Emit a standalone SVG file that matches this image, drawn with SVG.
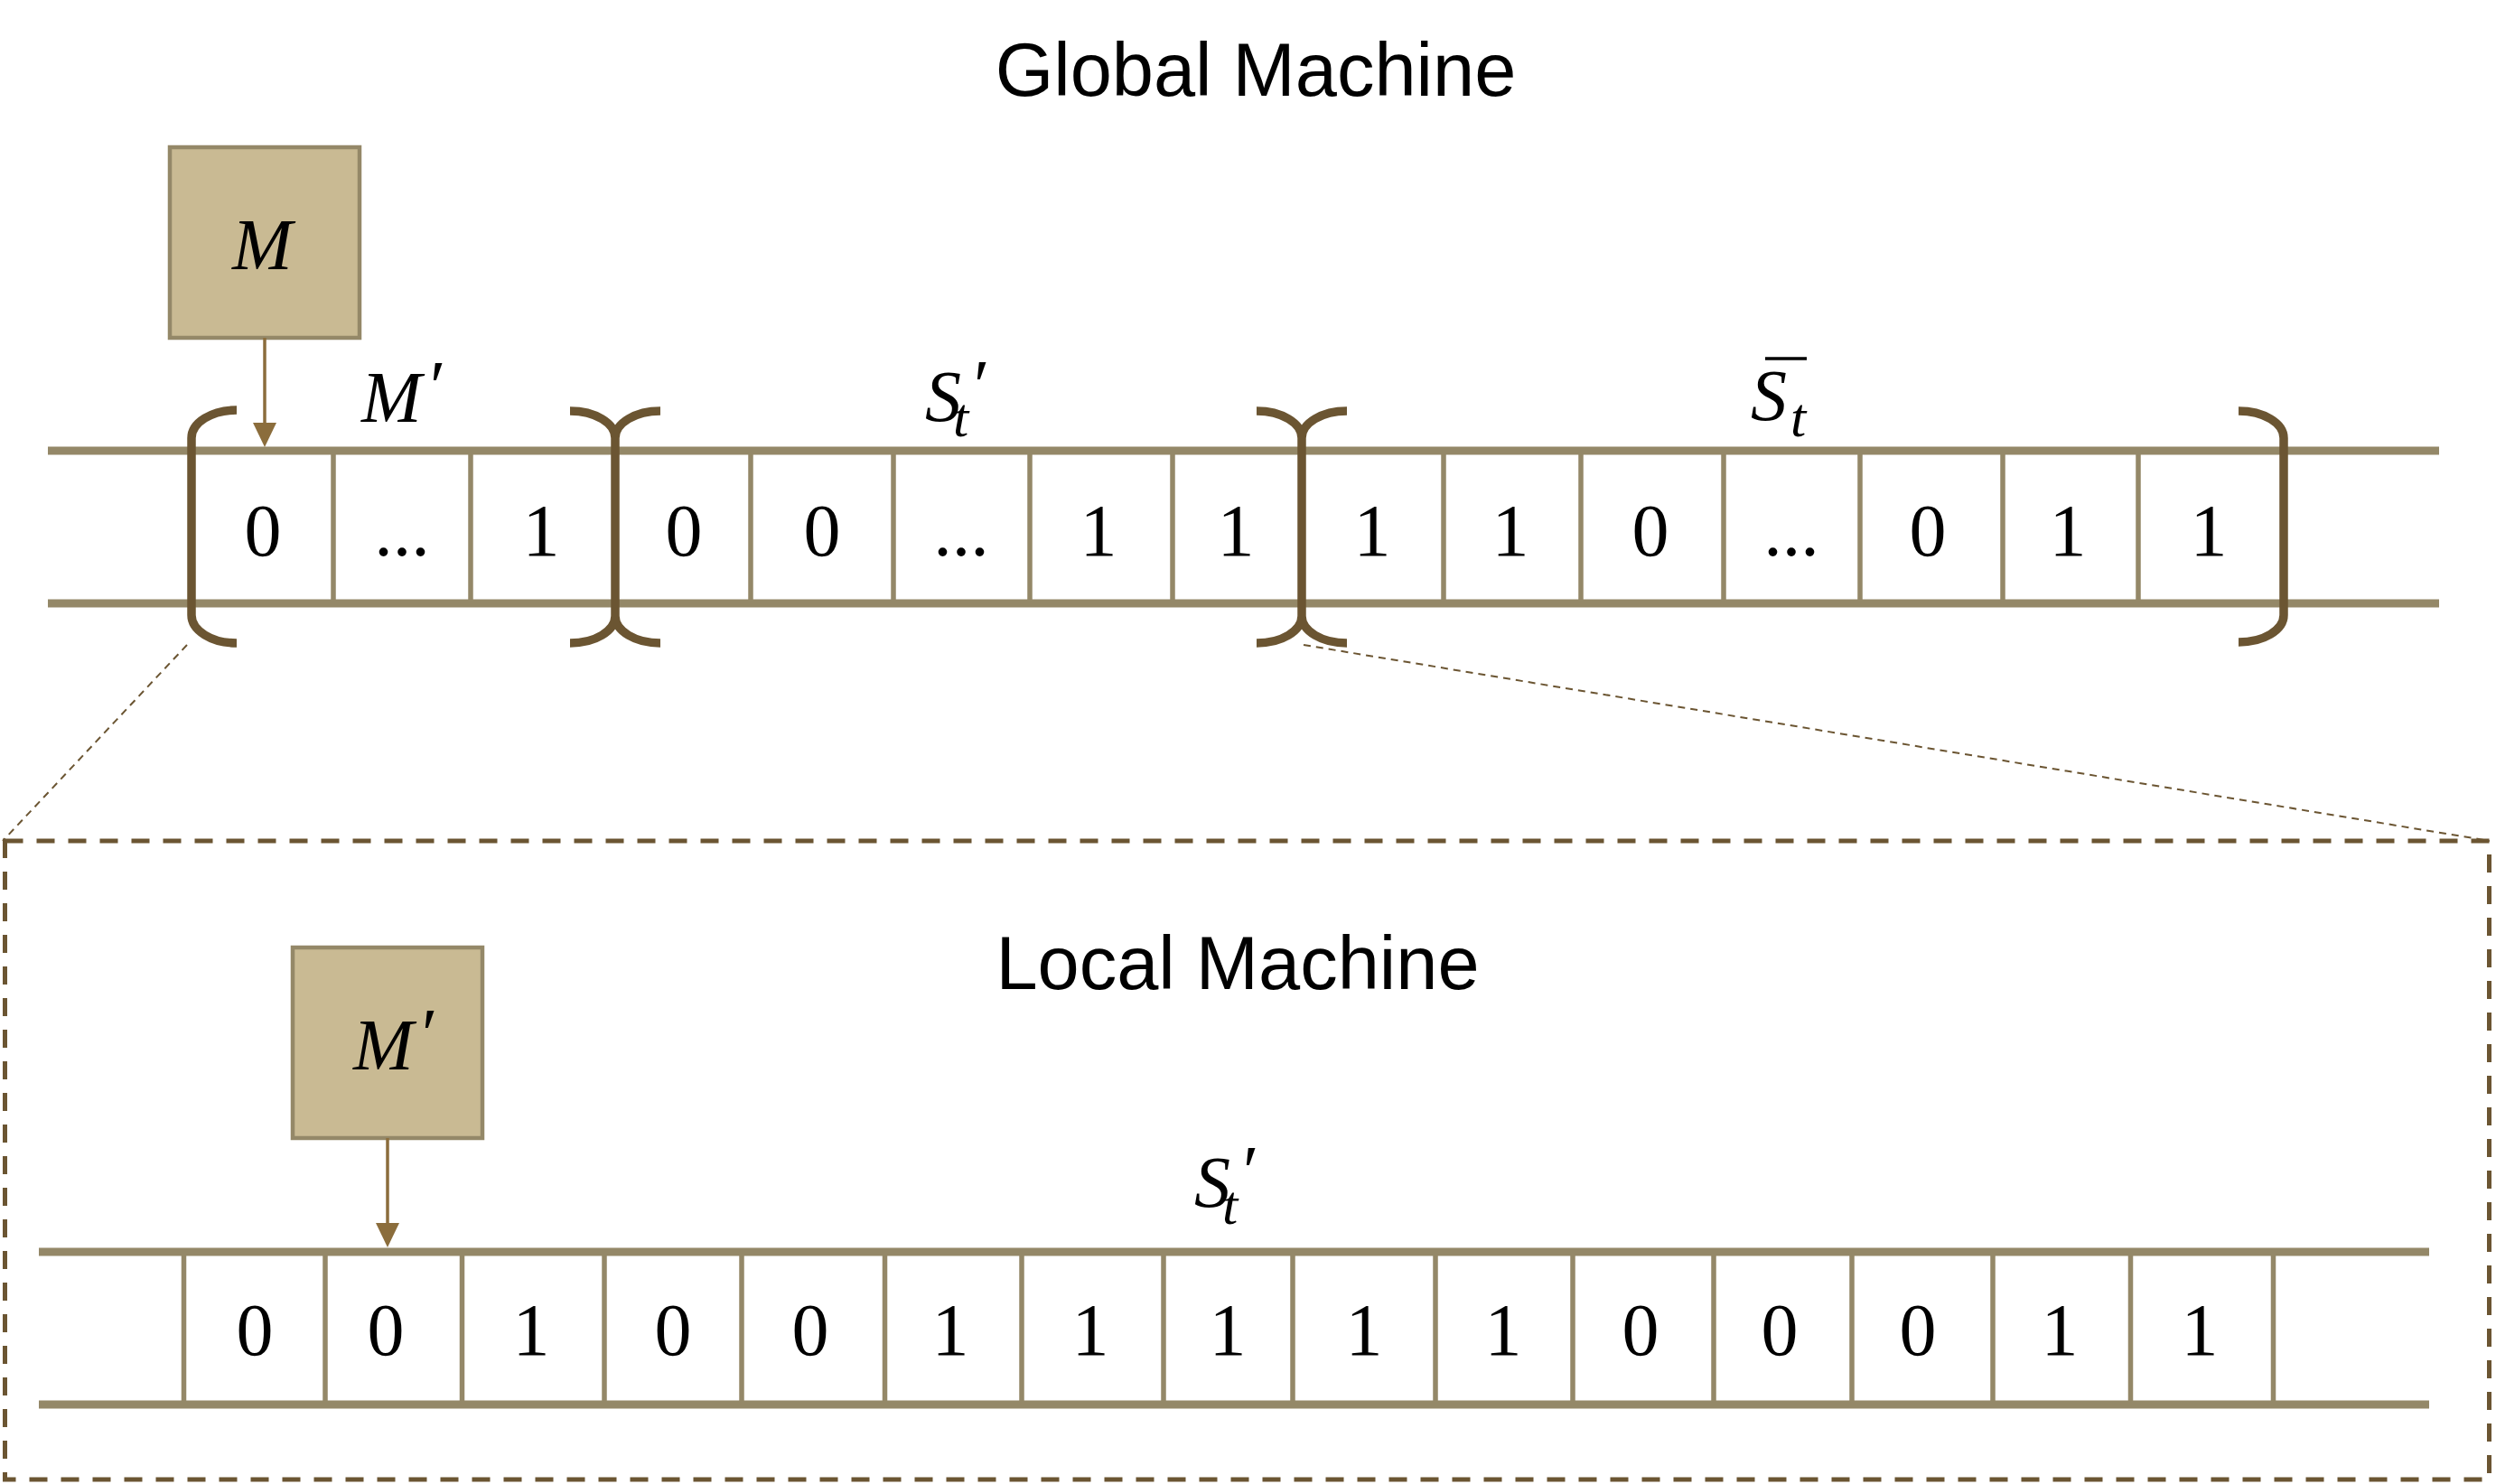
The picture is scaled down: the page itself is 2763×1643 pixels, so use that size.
<svg xmlns="http://www.w3.org/2000/svg" width="2763" height="1643" viewBox="0 0 2763 1643">
<style>
.title{font-family:"Liberation Sans",Arial,sans-serif;font-size:83px;fill:#000;text-anchor:middle}
.dig{font-family:"Liberation Serif","Times New Roman",serif;font-size:82px;fill:#000;text-anchor:middle}
.mi{font-family:"Liberation Serif","Times New Roman",serif;font-style:italic;font-size:80px;fill:#000}
.sub{font-size:62px}
.tape{stroke:#948868;stroke-width:9;fill:none}
.div{stroke:#948868;stroke-width:5.5;fill:none}
.br{stroke:#6B5532;stroke-width:9.5;fill:none}
.box{fill:#C9BA93;stroke:#948868;stroke-width:4.5}
.arr{stroke:#8B6D3C;stroke-width:3.5;fill:none}
.zoom{stroke:#6B5532;stroke-width:2;stroke-dasharray:8 6;fill:none}
.frame{stroke:#6B5532;stroke-width:5;stroke-dasharray:20 15;fill:none}
</style>
<defs>
<marker id="ah" markerUnits="userSpaceOnUse" markerWidth="27" markerHeight="26" refX="13" refY="13" orient="auto">
<path d="M0,0 L27,13 L0,26 z" fill="#8B6D3C"/>
</marker>
</defs>
<rect width="2763" height="1643" fill="#fff"/>

<g id="global-title"><text class="title" x="1390" y="106">Global Machine</text></g>

<g id="global-tape">
<line class="tape" x1="53" y1="499" x2="2700" y2="499"/>
<line class="tape" x1="53" y1="668" x2="2700" y2="668"/>
<path class="div" d="M369 503V664M521 503V664M831 503V664M989 503V664M1140 503V664M1298 503V664M1598 503V664M1750 503V664M1908 503V664M2059 503V664M2217 503V664M2367 503V664"/>
<text class="dig" x="291" y="615">0</text>
<text class="dig" x="445" y="615">...</text>
<text class="dig" x="599" y="615">1</text>
<text class="dig" x="757" y="615">0</text>
<text class="dig" x="910" y="615">0</text>
<text class="dig" x="1064" y="615">...</text>
<text class="dig" x="1216" y="615">1</text>
<text class="dig" x="1368" y="615">1</text>
<text class="dig" x="1519" y="615">1</text>
<text class="dig" x="1672" y="615">1</text>
<text class="dig" x="1827" y="615">0</text>
<text class="dig" x="1983" y="615">...</text>
<text class="dig" x="2134" y="615">0</text>
<text class="dig" x="2289" y="615">1</text>
<text class="dig" x="2445" y="615">1</text>
</g>

<g id="brackets">
<path class="br" d="M262 454 A50 31 0 0 0 212 485 L212 681 A50 31 0 0 0 262 712"/>
<path class="br" d="M631 455 A50 30 0 0 1 681 485 L681 682 A50 30 0 0 1 631 712 M731 455 A50 30 0 0 0 681 485 M681 682 A50 30 0 0 0 731 712"/>
<path class="br" d="M1391 455 A50 30 0 0 1 1441 485 L1441 682 A50 30 0 0 1 1391 712 M1491 455 A50 30 0 0 0 1441 485 M1441 682 A50 30 0 0 0 1491 712"/>
<path class="br" d="M2478 455 A50 30 0 0 1 2528 485 L2528 681 A50 30 0 0 1 2478 711"/>
</g>

<g id="label-Mprime">
<text class="mi" x="400" y="467">M<tspan x="471" dy="-12">′</tspan></text>
</g>
<g id="label-Stprime">
<text class="mi" x="1024" y="466">S<tspan x="1073" dy="-12">′</tspan><tspan class="sub" x="1055" dy="29">t</tspan></text>
</g>
<g id="label-Sbar">
<line x1="1954" y1="397" x2="2000" y2="397" stroke="#000" stroke-width="3.5"/>
<text class="mi" x="1938" y="465">S<tspan class="sub" x="1982" dy="18">t</tspan></text>
</g>

<g id="box-M">
<rect class="box" x="188" y="163" width="210" height="211"/>
<text class="mi" x="257" y="298">M</text>
</g>

<g id="zoom-frame">
<rect class="frame" x="5.5" y="931" width="2750" height="707"/>
</g>

<g id="local-title"><text class="title" x="1370" y="1095">Local Machine</text></g>

<g id="box-Mprime">
<rect class="box" x="324" y="1049" width="210" height="211"/>
<text class="mi" x="391" y="1184">M<tspan x="462" dy="-12">′</tspan></text>
</g>

<g id="label-local-St">
<text class="mi" x="1322" y="1336">S<tspan x="1371" dy="-12">′</tspan><tspan class="sub" x="1353" dy="31">t</tspan></text>
</g>

<g id="local-tape">
<line class="tape" x1="43" y1="1386" x2="2689" y2="1386"/>
<line class="tape" x1="43" y1="1555" x2="2689" y2="1555"/>
<path class="div" d="M203.5 1390V1551M360 1390V1551M511.5 1390V1551M669 1390V1551M821 1390V1551M979.5 1390V1551M1131 1390V1551M1288 1390V1551M1431 1390V1551M1589 1390V1551M1741 1390V1551M1897 1390V1551M2050 1390V1551M2206 1390V1551M2358.5 1390V1551M2516.5 1390V1551"/>
<text class="dig" x="282" y="1500">0</text>
<text class="dig" x="427" y="1500">0</text>
<text class="dig" x="588" y="1500">1</text>
<text class="dig" x="745" y="1500">0</text>
<text class="dig" x="897" y="1500">0</text>
<text class="dig" x="1052" y="1500">1</text>
<text class="dig" x="1207" y="1500">1</text>
<text class="dig" x="1359" y="1500">1</text>
<text class="dig" x="1510" y="1500">1</text>
<text class="dig" x="1664" y="1500">1</text>
<text class="dig" x="1816" y="1500">0</text>
<text class="dig" x="1970" y="1500">0</text>
<text class="dig" x="2123" y="1500">0</text>
<text class="dig" x="2280" y="1500">1</text>
<text class="dig" x="2435" y="1500">1</text>
</g>

<g id="connectors">
<line class="arr" x1="293" y1="374" x2="293" y2="481" marker-end="url(#ah)"/>
<line class="arr" x1="429" y1="1260" x2="429" y2="1367" marker-end="url(#ah)"/>
<line class="zoom" x1="207" y1="714" x2="3" y2="931"/>
<line class="zoom" x1="1443" y1="714" x2="2756" y2="931"/>
</g>
</svg>
